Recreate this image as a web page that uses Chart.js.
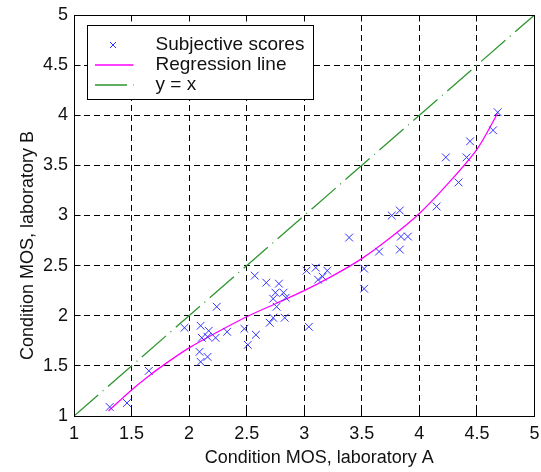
<!DOCTYPE html>
<html>
<head>
<meta charset="utf-8">
<script src="https://cdn.jsdelivr.net/npm/chart.js@4.4.1/dist/chart.umd.min.js"></script>
<style>
  html, body { margin: 0; padding: 0; background: #fff; }
</style>
</head>
<body>
<canvas id="mos-chart" width="541" height="472"></canvas>
<script>
// condition MOS per lab
const scoreA = [1.31, 1.46, 1.65, 1.96, 2.10, 2.17, 2.11, 2.16, 2.23, 2.24, 2.33, 2.09, 2.16, 2.10,
  2.48, 2.58, 2.51, 2.57, 2.67, 2.78, 2.75, 2.82, 2.73, 2.84, 2.76, 2.73, 2.70, 2.83,
  3.02, 3.10, 3.20, 3.12, 3.16, 3.04, 3.39, 3.52, 3.52, 3.65, 3.83, 3.84, 3.90, 3.76,
  3.83, 4.15, 4.34, 4.23, 4.41, 4.44, 4.64, 4.68];
const scoreB = [1.09, 1.13, 1.45, 1.88, 1.90, 1.85, 1.78, 1.79, 1.78, 2.09, 1.84, 1.64, 1.59, 1.54,
  1.87, 1.81, 1.71, 2.40, 2.33, 2.32, 2.23, 2.23, 2.17, 2.18, 2.09, 1.98, 1.93, 1.98,
  2.45, 2.48, 2.45, 2.36, 2.39, 1.89, 2.78, 2.47, 2.27, 2.64, 2.66, 2.79, 2.79, 3.00,
  3.05, 3.09, 3.33, 3.58, 3.58, 3.74, 3.85, 4.03];

// regression curve
const regA = [1.30, 1.50, 1.65, 1.83, 2.00, 2.25, 2.50, 2.75, 3.00, 3.25, 3.50, 3.75, 4.00, 4.25, 4.50, 4.68];
const regB = [1.05, 1.26, 1.40, 1.55, 1.68, 1.84, 1.99, 2.12, 2.25, 2.40, 2.57, 2.78, 3.02, 3.32, 3.66, 4.02];

// y = x
const diagA = [1, 5];
const diagB = [1, 5];

const tickValues = [1, 1.5, 2, 2.5, 3, 3.5, 4, 4.5, 5];
const seriesNames = ['Subjective scores', 'Regression line', 'y = x'];
const xTitle = 'Condition MOS, laboratory A';
const yTitle = 'Condition MOS, laboratory B';

const FONT = '"Liberation Sans", Arial, sans-serif';
const TEXT = '#111';

const toPoints = (xs, ys) => xs.map((x, i) => ({ x: x, y: ys[i] }));
const align = p => Math.round(p - 0.5) + 0.5;

// box around the plot, inward ticks on all sides, axis titles
const framePlugin = {
  id: 'frame',
  afterDraw(chart) {
    const { ctx, chartArea: a, scales } = chart;
    const L = align(a.left), R = align(a.right), T = align(a.top), B = align(a.bottom);
    ctx.save();
    ctx.setLineDash([]);
    ctx.strokeStyle = '#000';
    ctx.lineWidth = 1;
    ctx.strokeRect(L, T, R - L, B - T);
    ctx.beginPath();
    scales.x.ticks.forEach(t => {
      const px = align(scales.x.getPixelForValue(t.value));
      ctx.moveTo(px, B); ctx.lineTo(px, B - 6);
      ctx.moveTo(px, T); ctx.lineTo(px, T + 6);
    });
    scales.y.ticks.forEach(t => {
      const py = align(scales.y.getPixelForValue(t.value));
      ctx.moveTo(L, py); ctx.lineTo(L + 6, py);
      ctx.moveTo(R, py); ctx.lineTo(R - 6, py);
    });
    ctx.stroke();

    ctx.fillStyle = TEXT;
    ctx.font = '18px ' + FONT;
    ctx.textAlign = 'center';
    ctx.textBaseline = 'middle';
    ctx.fillText(xTitle, (a.left + a.right) / 2 + 15, 458);
    ctx.translate(28, (a.top + a.bottom) / 2 + 30);
    ctx.rotate(-Math.PI / 2);
    ctx.fillText(yTitle, 0, 0);
    ctx.restore();
  }
};

// matlab-like legend box in the top-left corner
const legendPlugin = {
  id: 'boxLegend',
  afterDraw(chart) {
    const { ctx, chartArea: a } = chart;
    const x0 = align(a.left + 13), y0 = align(a.top + 10), w = 226, h = 74;
    ctx.save();
    ctx.fillStyle = '#fff';
    ctx.fillRect(x0, y0, w, h);
    ctx.strokeStyle = '#000';
    ctx.lineWidth = 1;
    ctx.setLineDash([]);
    ctx.strokeRect(x0, y0, w, h);
    ctx.font = '19px ' + FONT;
    ctx.textBaseline = 'middle';
    chart.data.datasets.forEach((ds, i) => {
      const cy = y0 + 19.5 + i * 20;
      ctx.strokeStyle = ds.borderColor;
      ctx.lineWidth = ds.borderWidth;
      if (ds.showLine) {
        ctx.setLineDash(ds.borderDash || []);
        ctx.beginPath();
        ctx.moveTo(x0 + 7.5, cy);
        ctx.lineTo(x0 + 46, cy);
        ctx.stroke();
      } else {
        const mx = x0 + 25.5, r = 3;
        ctx.setLineDash([]);
        ctx.beginPath();
        ctx.moveTo(mx - r, cy - r); ctx.lineTo(mx + r, cy + r);
        ctx.moveTo(mx - r, cy + r); ctx.lineTo(mx + r, cy - r);
        ctx.stroke();
      }
      ctx.fillStyle = TEXT;
      ctx.fillText(ds.label, x0 + 68, cy);
    });
    ctx.restore();
  }
};

const axisCommon = {
  type: 'linear',
  min: 1,
  max: 5,
  afterBuildTicks: s => { s.ticks = tickValues.map(v => ({ value: v })); },
  grid: { color: '#000', lineWidth: 1, drawTicks: false },
  border: { display: false, dash: [6, 4] }
};

new Chart(document.getElementById('mos-chart'), {
  type: 'scatter',
  data: {
    datasets: [
      {
        label: seriesNames[0],
        data: toPoints(scoreA, scoreB),
        pointStyle: 'crossRot',
        pointRadius: 5.5,
        borderColor: '#3333ff',
        backgroundColor: 'rgba(0,0,0,0)',
        borderWidth: 1
      },
      {
        label: seriesNames[1],
        data: toPoints(regA, regB),
        showLine: true,
        pointRadius: 0,
        borderColor: '#ff00ff',
        borderWidth: 1.3,
        tension: 0.3
      },
      {
        label: seriesNames[2],
        data: toPoints(diagA, diagB),
        showLine: true,
        pointRadius: 0,
        borderColor: '#2e962e',
        borderWidth: 1.3,
        borderDash: [32, 6, 1, 6]
      }
    ]
  },
  options: {
    responsive: false,
    animation: false,
    devicePixelRatio: 1,
    events: [],
    layout: { padding: { top: 15, right: 6, left: 0, bottom: 0 } },
    plugins: { legend: { display: false }, tooltip: { enabled: false } },
    scales: {
      x: Object.assign({}, axisCommon, {
        ticks: { color: TEXT, font: { family: FONT, size: 18 }, padding: 7, maxRotation: 0, autoSkip: false, callback: v => String(v) },
        afterFit: s => { s.height = 56; s.paddingLeft = 0; s.paddingRight = 0; }
      }),
      y: Object.assign({}, axisCommon, {
        ticks: { color: TEXT, font: { family: FONT, size: 18 }, padding: 6, autoSkip: false, callback: v => String(v) },
        afterFit: s => { s.width = 74; s.paddingTop = 0; s.paddingBottom = 0; }
      })
    }
  },
  plugins: [framePlugin, legendPlugin]
});
</script>
</body>
</html>
